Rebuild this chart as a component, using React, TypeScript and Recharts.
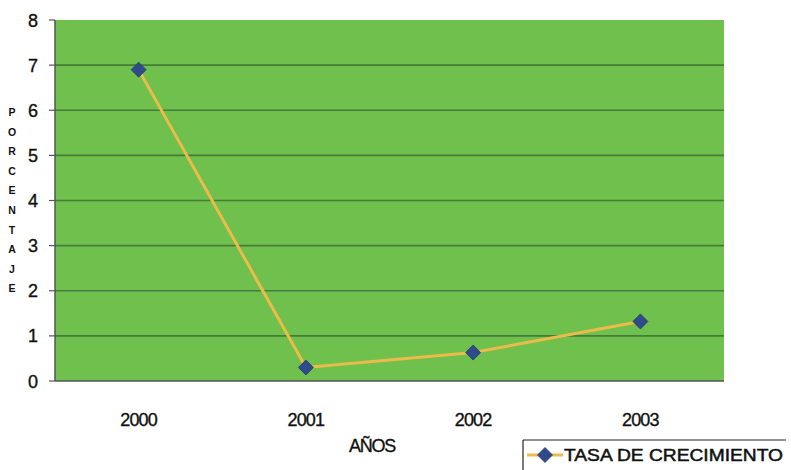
import React from "react";
import {
  LineChart,
  Line,
  XAxis,
  YAxis,
  CartesianGrid,
  ReferenceLine,
  Customized,
} from "recharts";

const years = ["2000", "2001", "2002", "2003"];
const growthRate = [6.9, 0.3, 0.63, 1.32];
const yTicks = [0, 1, 2, 3, 4, 5, 6, 7, 8];
const seriesName = "TASA DE CRECIMIENTO";
const xTitle = "AÑOS";
const yTitle = "PORCENTAJE";

const data = years.map((year, i) => ({ idx: i, year, value: growthRate[i] }));
const boundaryTicks = [-0.5, 0.5, 1.5, 2.5, 3.5];

const GREEN = "#6fc04d";
const GRID = "#3f6e36";
const LINE = "#ecbc4a";
const MARKER = "#2f4b8c";
const FONT = "'Liberation Sans', Arial, sans-serif";

const Diamond = (props: any) => {
  const { cx, cy } = props;
  if (cx == null || cy == null) return null;
  const r = 7.5;
  return (
    <polygon
      points={`${cx},${cy - r} ${cx + r},${cy} ${cx},${cy + r} ${cx - r},${cy}`}
      fill={MARKER}
      stroke="#233a6e"
      strokeWidth={0.8}
    />
  );
};

const XTick = (props: any) => {
  const { x, y, payload } = props;
  return (
    <text
      x={x}
      y={y + 37}
      textAnchor="middle"
      fontFamily={FONT}
      fontSize={18}
      fill="#111"
      stroke="#111"
      strokeWidth={0.35}
      letterSpacing={-0.8}
    >
      {years[payload.value]}
    </text>
  );
};

const YTick = (props: any) => {
  const { y, payload } = props;
  return (
    <text
      x={33}
      y={y + 6.5}
      textAnchor="middle"
      fontFamily={FONT}
      fontSize={18}
      fill="#111"
      stroke="#111"
      strokeWidth={0.35}
    >
      {payload.value}
    </text>
  );
};

const Titles = () => (
  <g fontFamily={FONT} fill="#111">
    {yTitle.split("").map((ch, i) => (
      <text
        key={i}
        x={12}
        y={116 + i * 19.6}
        textAnchor="middle"
        fontSize={10.5}
        fontWeight="bold"
      >
        {ch}
      </text>
    ))}
    <text
      x={372}
      y={452}
      textAnchor="middle"
      fontSize={18}
      stroke="#111"
      strokeWidth={0.35}
      letterSpacing={-1.2}
    >
      {xTitle}
    </text>
    {/* legend box */}
    <line x1={523} y1={440} x2={786} y2={440} stroke="#222" strokeWidth={1.2} />
    <line x1={523} y1={440} x2={523} y2={470} stroke="#222" strokeWidth={1.2} />
    <line x1={527} y1={455} x2={563} y2={455} stroke={LINE} strokeWidth={3} />
    <Diamond cx={545} cy={455} />
    <text
      x={564}
      y={461}
      fontSize={17}
      stroke="#111"
      strokeWidth={0.5}
      textLength={219}
      lengthAdjust="spacingAndGlyphs"
    >
      {seriesName}
    </text>
  </g>
);

export default function App() {
  return (
    <div style={{ position: "absolute", left: 0, top: 0, background: "#fff" }}>
      <LineChart
        width={791}
        height={470}
        data={data}
        margin={{ top: 20, right: 67, bottom: 0, left: 0 }}
      >
        <CartesianGrid
          horizontal={false}
          vertical={false}
          fill={GREEN}
          fillOpacity={1}
        />
        {yTicks.slice(1, 8).map((t) => (
          <ReferenceLine
            key={t}
            y={t}
            stroke={GRID}
            strokeWidth={1.6}
            strokeOpacity={0.85}
            ifOverflow="visible"
          />
        ))}
        <XAxis
          xAxisId="main"
          dataKey="idx"
          type="number"
          domain={[-0.5, 3.5]}
          ticks={[0, 1, 2, 3]}
          tick={<XTick />}
          tickLine={false}
          axisLine={{ stroke: "#555", strokeWidth: 1.5 }}
          height={89}
          interval={0}
        />
        <XAxis
          xAxisId="bounds"
          dataKey="idx"
          type="number"
          domain={[-0.5, 3.5]}
          ticks={boundaryTicks}
          tick={false}
          tickLine={{ stroke: "#555", strokeWidth: 1.2 }}
          tickSize={7}
          axisLine={false}
          height={0}
          interval={0}
        />
        <YAxis
          domain={[0, 8]}
          ticks={yTicks}
          width={55}
          tick={<YTick />}
          tickLine={{ stroke: "#555", strokeWidth: 1.2 }}
          tickSize={6}
          axisLine={{ stroke: "#555", strokeWidth: 1.5 }}
          interval={0}
        />
        <Line
          xAxisId="main"
          dataKey="value"
          stroke={LINE}
          strokeWidth={3}
          dot={<Diamond />}
          activeDot={false}
          isAnimationActive={false}
        />
        <Customized component={Titles} />
      </LineChart>
    </div>
  );
}
